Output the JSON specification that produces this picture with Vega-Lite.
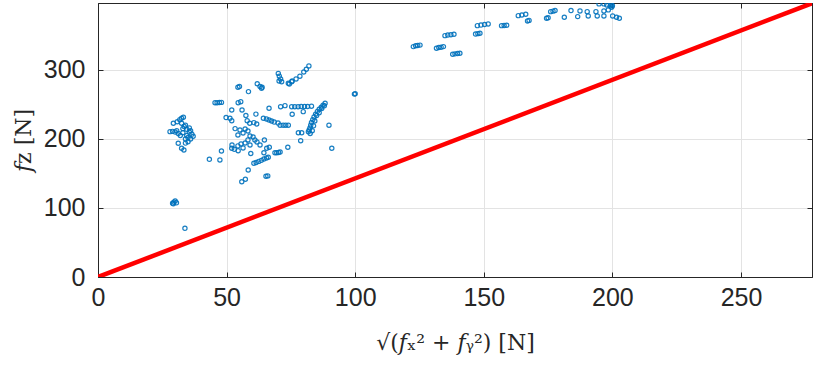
{
  "$schema": "https://vega.github.io/schema/vega-lite/v6.json",
  "width": 714,
  "height": 274,
  "autosize": "none",
  "padding": {"left": 98, "top": 3, "right": 18, "bottom": 92},
  "background": "white",
  "config": {
    "view": {"stroke": "#262626", "strokeWidth": 1},
    "axis": {
      "labelFont": "Liberation Sans",
      "labelFontSize": 25,
      "labelColor": "#262626",
      "titleColor": "#262626",
      "domainColor": "#262626",
      "tickColor": "#262626",
      "gridColor": "#e3e3e3",
      "gridWidth": 1,
      "tickSize": -5,
      "tickWidth": 1,
      "labelFlush": false,
      "labelOverlap": false
    }
  },
  "datasets": {
    "pts": [
      {"fxy": 29, "fz": 107}, {"fxy": 29.5, "fz": 108.5}, {"fxy": 30, "fz": 110}, {"fxy": 29.3, "fz": 106}, {"fxy": 30.5, "fz": 107.5},
      {"fxy": 33.8, "fz": 70.5},
      {"fxy": 28, "fz": 210.6}, {"fxy": 29, "fz": 211}, {"fxy": 30, "fz": 210}, {"fxy": 30.6, "fz": 212}, {"fxy": 29.3, "fz": 222.8},
      {"fxy": 30.8, "fz": 225}, {"fxy": 31.8, "fz": 228}, {"fxy": 32.5, "fz": 230}, {"fxy": 33.2, "fz": 231.5}, {"fxy": 32.5, "fz": 222.8},
      {"fxy": 33.5, "fz": 218}, {"fxy": 34.5, "fz": 214}, {"fxy": 35.5, "fz": 210}, {"fxy": 36.5, "fz": 207}, {"fxy": 37, "fz": 204},
      {"fxy": 35, "fz": 202}, {"fxy": 34, "fz": 200}, {"fxy": 33, "fz": 215}, {"fxy": 34, "fz": 220}, {"fxy": 35.5, "fz": 216},
      {"fxy": 36, "fz": 212}, {"fxy": 34.5, "fz": 205}, {"fxy": 36, "fz": 200}, {"fxy": 35, "fz": 196}, {"fxy": 34, "fz": 194},
      {"fxy": 31.2, "fz": 208}, {"fxy": 31.2, "fz": 193.8}, {"fxy": 32.5, "fz": 186.5}, {"fxy": 33.4, "fz": 184}, {"fxy": 32, "fz": 205}, {"fxy": 33, "fz": 209},
      {"fxy": 43.3, "fz": 170.5}, {"fxy": 47.4, "fz": 169.6}, {"fxy": 48, "fz": 182.6}, {"fxy": 52, "fz": 186.5}, {"fxy": 53, "fz": 185}, {"fxy": 54.5, "fz": 183},
      {"fxy": 45.5, "fz": 252.6}, {"fxy": 46.3, "fz": 252.6}, {"fxy": 47.2, "fz": 252.8}, {"fxy": 48, "fz": 253}, {"fxy": 54.5, "fz": 252.6}, {"fxy": 55.5, "fz": 254},
      {"fxy": 54.4, "fz": 275}, {"fxy": 55, "fz": 276}, {"fxy": 58.5, "fz": 268.6}, {"fxy": 61.9, "fz": 280}, {"fxy": 63, "fz": 276}, {"fxy": 63.8, "fz": 275},
      {"fxy": 70.4, "fz": 284}, {"fxy": 74.4, "fz": 279.7}, {"fxy": 75.3, "fz": 283},
      {"fxy": 52, "fz": 242}, {"fxy": 56, "fz": 242}, {"fxy": 61.4, "fz": 236}, {"fxy": 57.5, "fz": 234}, {"fxy": 49.8, "fz": 231}, {"fxy": 51.3, "fz": 230},
      {"fxy": 52, "fz": 226.5}, {"fxy": 58, "fz": 226.5}, {"fxy": 59, "fz": 222.8}, {"fxy": 60.6, "fz": 223.7}, {"fxy": 61.7, "fz": 221.7},
      {"fxy": 53.3, "fz": 215}, {"fxy": 55.2, "fz": 213}, {"fxy": 57.2, "fz": 214.5}, {"fxy": 56.4, "fz": 208.7}, {"fxy": 58.3, "fz": 211.6},
      {"fxy": 59.1, "fz": 204.3}, {"fxy": 60.3, "fz": 202.9}, {"fxy": 61, "fz": 198.6}, {"fxy": 58.3, "fz": 198.6}, {"fxy": 57.2, "fz": 194.2},
      {"fxy": 54.4, "fz": 205.8}, {"fxy": 55.6, "fz": 192.8}, {"fxy": 59.1, "fz": 191.3}, {"fxy": 61.8, "fz": 195.7}, {"fxy": 63, "fz": 191.3},
      {"fxy": 56.4, "fz": 187}, {"fxy": 54.4, "fz": 190}, {"fxy": 52.1, "fz": 191.3},
      {"fxy": 66.5, "fz": 244.5}, {"fxy": 71, "fz": 246.8}, {"fxy": 72.7, "fz": 248.3},
      {"fxy": 64.3, "fz": 230}, {"fxy": 65.5, "fz": 229}, {"fxy": 66.5, "fz": 227.5}, {"fxy": 67.5, "fz": 226}, {"fxy": 68.5, "fz": 224.5}, {"fxy": 70, "fz": 223},
      {"fxy": 70.8, "fz": 220}, {"fxy": 72, "fz": 220}, {"fxy": 73, "fz": 220}, {"fxy": 74, "fz": 220},
      {"fxy": 75.5, "fz": 235.8}, {"fxy": 75.3, "fz": 246.8}, {"fxy": 76.5, "fz": 246.8}, {"fxy": 77.8, "fz": 246.8}, {"fxy": 79, "fz": 247},
      {"fxy": 80.3, "fz": 247}, {"fxy": 81.5, "fz": 247}, {"fxy": 83, "fz": 247.5}, {"fxy": 79.8, "fz": 239.6},
      {"fxy": 77.9, "fz": 209}, {"fxy": 79.2, "fz": 209}, {"fxy": 78.8, "fz": 197.5},
      {"fxy": 81.8, "fz": 210.6}, {"fxy": 82.1, "fz": 213}, {"fxy": 82.4, "fz": 216}, {"fxy": 82.7, "fz": 220}, {"fxy": 83, "fz": 224},
      {"fxy": 83.5, "fz": 228}, {"fxy": 84, "fz": 232}, {"fxy": 84.6, "fz": 236}, {"fxy": 85.3, "fz": 240}, {"fxy": 86, "fz": 243},
      {"fxy": 86.8, "fz": 246}, {"fxy": 87.5, "fz": 249}, {"fxy": 88.3, "fz": 251.7}, {"fxy": 82.5, "fz": 208}, {"fxy": 83.3, "fz": 212},
      {"fxy": 83.8, "fz": 219}, {"fxy": 84.3, "fz": 226}, {"fxy": 85, "fz": 234}, {"fxy": 86, "fz": 238}, {"fxy": 87, "fz": 244}, {"fxy": 88, "fz": 248},
      {"fxy": 89.8, "fz": 220}, {"fxy": 90.9, "fz": 186.5}, {"fxy": 73.8, "fz": 188}, {"fxy": 64.7, "fz": 198.5}, {"fxy": 65.6, "fz": 186.5}, {"fxy": 66.6, "fz": 188},
      {"fxy": 68.8, "fz": 180}, {"fxy": 69.5, "fz": 180}, {"fxy": 70.2, "fz": 180.5}, {"fxy": 70.8, "fz": 181}, {"fxy": 64.5, "fz": 180}, {"fxy": 59.4, "fz": 179},
      {"fxy": 60.6, "fz": 164.8}, {"fxy": 61.5, "fz": 166}, {"fxy": 62.5, "fz": 167.5}, {"fxy": 63.5, "fz": 169}, {"fxy": 64.5, "fz": 171}, {"fxy": 65.5, "fz": 172.5}, {"fxy": 66.2, "fz": 173.5},
      {"fxy": 58.4, "fz": 155}, {"fxy": 65.3, "fz": 146}, {"fxy": 66, "fz": 146.5}, {"fxy": 55.9, "fz": 138}, {"fxy": 57.3, "fz": 141.6},
      {"fxy": 63.6, "fz": 273.4}, {"fxy": 99.7, "fz": 265}, {"fxy": 100, "fz": 265.5},
      {"fxy": 70.1, "fz": 295}, {"fxy": 70.5, "fz": 291}, {"fxy": 71, "fz": 287}, {"fxy": 71.4, "fz": 283},
      {"fxy": 74, "fz": 280.7}, {"fxy": 75.5, "fz": 284}, {"fxy": 77, "fz": 287}, {"fxy": 78.5, "fz": 291}, {"fxy": 80, "fz": 297}, {"fxy": 81, "fz": 301}, {"fxy": 82, "fz": 305.8},
      {"fxy": 122.6, "fz": 333.8}, {"fxy": 123.5, "fz": 335}, {"fxy": 124.3, "fz": 335.5}, {"fxy": 125.2, "fz": 336},
      {"fxy": 131.6, "fz": 331.5}, {"fxy": 132.5, "fz": 332.5}, {"fxy": 133.4, "fz": 333}, {"fxy": 134.3, "fz": 333.8},
      {"fxy": 137.9, "fz": 322.8}, {"fxy": 138.8, "fz": 323.3}, {"fxy": 139.8, "fz": 323.8}, {"fxy": 140.7, "fz": 324.2},
      {"fxy": 134.9, "fz": 349.7}, {"fxy": 136, "fz": 350.5}, {"fxy": 137.2, "fz": 351}, {"fxy": 138.4, "fz": 351.7},
      {"fxy": 146.8, "fz": 352}, {"fxy": 147.7, "fz": 352.6}, {"fxy": 148.5, "fz": 353.2},
      {"fxy": 147.5, "fz": 364.2}, {"fxy": 148.9, "fz": 365}, {"fxy": 150.3, "fz": 365.8}, {"fxy": 151.7, "fz": 366.7},
      {"fxy": 156.9, "fz": 364.2}, {"fxy": 157.9, "fz": 364.5}, {"fxy": 158.9, "fz": 364.8},
      {"fxy": 163.4, "fz": 378.7}, {"fxy": 164.8, "fz": 379.6}, {"fxy": 166.3, "fz": 380.7},
      {"fxy": 167, "fz": 371}, {"fxy": 167.6, "fz": 371.8}, {"fxy": 174.4, "fz": 374.9}, {"fxy": 175, "fz": 375.5},
      {"fxy": 176, "fz": 384.5}, {"fxy": 176.9, "fz": 385.2}, {"fxy": 177.7, "fz": 386},
      {"fxy": 181.3, "fz": 376.4}, {"fxy": 183.9, "fz": 386}, {"fxy": 186.5, "fz": 377.3}, {"fxy": 187.4, "fz": 385.5},
      {"fxy": 190.2, "fz": 384.5}, {"fxy": 190.6, "fz": 378.3}, {"fxy": 193.6, "fz": 384.5}, {"fxy": 194.1, "fz": 378.3},
      {"fxy": 194.8, "fz": 395.7}, {"fxy": 196.7, "fz": 395.7}, {"fxy": 197.8, "fz": 394.2}, {"fxy": 199.1, "fz": 392.8}, {"fxy": 199.7, "fz": 390.9},
      {"fxy": 198.4, "fz": 387}, {"fxy": 196.7, "fz": 385.5}, {"fxy": 196.7, "fz": 378.3}, {"fxy": 200.1, "fz": 378.3}, {"fxy": 201.6, "fz": 376.4},
      {"fxy": 202.7, "fz": 374.9}, {"fxy": 199.5, "fz": 395}, {"fxy": 200, "fz": 393}
    ],
    "cone": [
      {"fxy": 0, "fz": 0},
      {"fxy": 277.6, "fz": 396.6}
    ]
  },
  "layer": [
    {
      "data": {"name": "pts"},
      "mark": {"type": "point", "shape": "circle", "filled": false, "size": 18, "stroke": "#0072BD", "strokeWidth": 1.2, "opacity": 0.9, "clip": true},
      "encoding": {
        "x": {
          "field": "fxy", "type": "quantitative",
          "scale": {"domain": [0, 277.6], "nice": false, "zero": false},
          "axis": {"orient": "bottom", "values": [0, 50, 100, 150, 200, 250], "grid": true, "labelPadding": 13,
            "title": "√(𝑓ₓ² + 𝑓ᵧ²) [N]", "titleFont": "DejaVu Serif", "titleFontSize": 22, "titleFontWeight": "normal", "titlePadding": 22}
        },
        "y": {
          "field": "fz", "type": "quantitative",
          "scale": {"domain": [0, 397], "nice": false, "zero": false},
          "axis": {"orient": "left", "values": [0, 100, 200, 300], "grid": true, "labelPadding": 18,
            "title": "𝑓z [N]", "titleFont": "DejaVu Serif", "titleFontSize": 22, "titleFontWeight": "normal", "titlePadding": 8}
        }
      }
    },
    {
      "data": {"name": "cone"},
      "mark": {"type": "line", "color": "#ff0000", "strokeWidth": 4.5, "clip": true},
      "encoding": {
        "x": {
          "field": "fxy", "type": "quantitative",
          "axis": {"orient": "top", "values": [0, 50, 100, 150, 200, 250], "labels": false, "grid": false, "title": null}
        },
        "y": {
          "field": "fz", "type": "quantitative",
          "axis": {"orient": "right", "values": [0, 100, 200, 300], "labels": false, "grid": false, "title": null}
        }
      }
    }
  ],
  "resolve": {"axis": {"x": "independent", "y": "independent"}}
}
